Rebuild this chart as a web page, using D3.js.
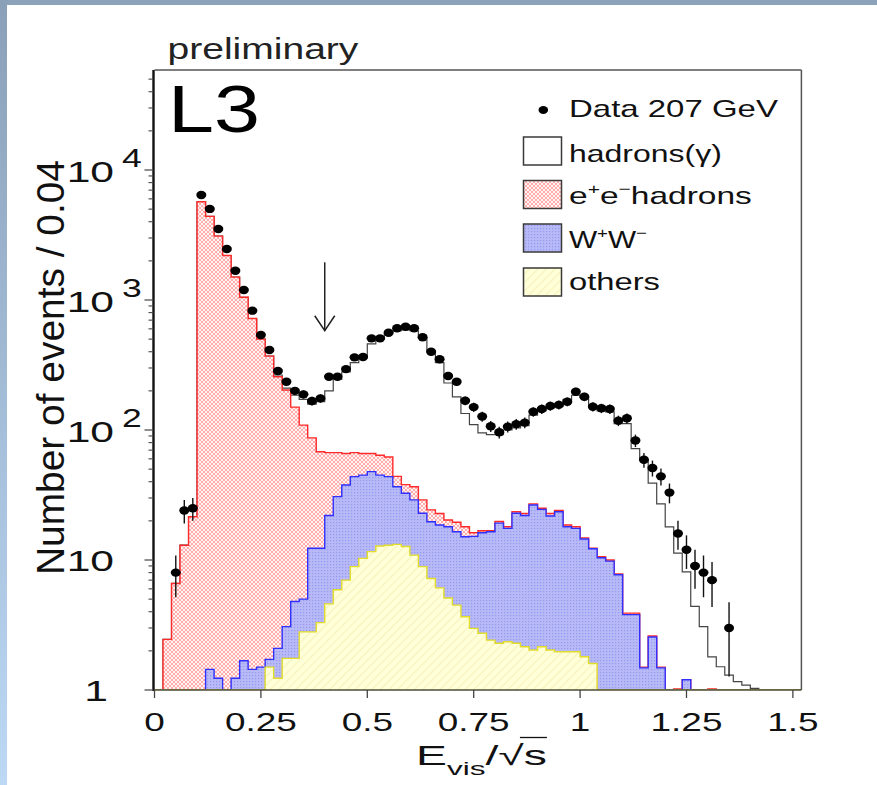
<!DOCTYPE html>
<html><head><meta charset="utf-8">
<script src="https://cdn.jsdelivr.net/npm/d3@7"></script>
<style>
body{margin:0;background:#fff}
svg{display:block}
text{font-family:"Liberation Sans",Arial,Helvetica,sans-serif;fill:#111}
</style>
</head><body>
<svg id="chart" width="877" height="785"></svg>
<script>
// ---- binning: 0.02 wide bins starting at E_vis/sqrt(s) = 0 ----
const binWidth = 0.02;

// observed events per bin (null = no entry)
const dataCounts = [null,null,8,24,25,6420,5020,3520,2470,1680,
  1194,828,538,412,284,235,200,188,167,175,
  257,257,294,362,364,507,507,560,606,623,
  606,517,400,350,260,235,168,150,127,107,
  96,106,111,114,138,145,153,156,165,197,
  180,151,147,145,118,123,83,59,51,44,
  33,16,12,9,8,7,null,3,null,null,
  null,null,null,null,null,null];

// stacked Monte Carlo levels (each includes everything drawn below it)
const stackTotal = [0,2.45,6.6,13,21.5,5700,4400,3100,2200,1500,
  1050,720,500,370,265,210,185,172,158,165,
  200,245,280,330,360,460,500,550,580,590,
  580,510,400,330,230,180,134,110,95,92,
  92,100,104,108,130,140,148,152,172,185,
  178,150,140,138,112,112,72,59,39,27,
  18,11.3,8.1,4.4,3.07,1.8,1.51,1.3,1.16,1.09,
  1.03,0.9,0,0,0,0];
const stackEE = [0,2.45,6.6,13,21.5,5700,4400,3100,2200,1500,
  1050,720,500,370,257,203,150,109,87,68,
  67,67,66,67,66,66,64,62,44,38,
  36.6,29,24.3,22.8,20.3,19.5,18,16.2,16.8,16.8,
  19.8,18,23.5,22.8,27,25,22.8,24,18.6,18,
  14.8,12.3,10.6,10,7.8,3.9,3.9,1.5,2.6,1.5,
  0,1.02,1.2,0,0,1.02,0,0,0,0,
  0,0,0,0,0,0];
const stackWW = [0,0,0,0,0,0,1.44,1.23,0,1.23,
  1.68,1.44,1.5,1.72,2.09,3.07,4.8,5.0,12.3,12.3,
  22,30.7,37.8,43.8,45,47.8,45,43.8,36.6,32.6,
  29,22.9,19.7,18.6,18,16.5,15.1,15.2,16.2,16.5,
  19.2,17.5,22.9,22,26.5,24.5,21.8,23.5,18,17.5,
  14.5,12.2,10.4,9.8,7.7,3.8,3.8,1.48,2.56,1.48,
  0,0,1.2,0,0,0,0,0,0,0,
  0,0,0,0,0,0];
const stackOthers = [0,0,0,0,0,0,0,0,0,0,
  0,0,0,1.5,1.23,1.75,1.75,2.8,2.8,3.3,
  4.6,5.9,7.0,8.9,10.3,11.6,12.8,13.0,13.2,12.7,
  10.9,8.9,7.2,6.1,5.1,4.5,3.66,2.98,2.73,2.42,
  2.29,2.35,2.29,2.15,2.03,2.15,2.03,1.97,1.97,1.97,
  1.8,1.6,0,0,0,0,0,0,0,0,
  0,0,0,0,0,0,0,0,0,0,
  0,0,0,0,0,0];

const xTicks = [0, 0.25, 0.5, 0.75, 1, 1.25, 1.5];
const xTickLabels = ["0", "0.25", "0.5", "0.75", "1", "1.25", "1.5"];
const yDecades = [1, 10, 100, 1000, 10000];
const yMantissa = ["1", "10", "10", "10", "10"];
const yExponent = ["", "", "2", "3", "4"];
const legendEntries = ["hadrons(γ)", "e+e−hadrons", "W+W−", "others"];
const dataLabel = "Data 207 GeV";
const cutValue = 0.4;          // selection cut marked by the arrow
const arrowRange = [1950, 580]; // arrow extent in events

// ---- geometry ----
const svg = d3.select("#chart");
const plot = {left: 154.5, right: 801.4, top: 70, bottom: 690};
const x = d3.scaleLinear().domain([0, 1.52]).range([plot.left, plot.right]);
const y = d3.scaleLog().domain([1, Math.pow(10, 620/130)]).range([plot.bottom, plot.top]);
const yv = v => (v >= 1 ? y(v) : plot.bottom);

// ---- page frame ----
const defs = svg.append("defs");
const grad = defs.append("linearGradient").attr("id", "sideGrad")
  .attr("x1", 0).attr("y1", 0).attr("x2", 0).attr("y2", 1);
grad.append("stop").attr("offset", 0).attr("stop-color", "#8aa0b8");
grad.append("stop").attr("offset", 1).attr("stop-color", "#bcd8f5");
svg.append("rect").attr("x", 0).attr("y", 0).attr("width", 877).attr("height", 5).attr("fill", "#8ca2ba");
svg.append("rect").attr("x", 0).attr("y", 0).attr("width", 7).attr("height", 785).attr("fill", "url(#sideGrad)");

// ---- fill patterns ----
const pRed = defs.append("pattern").attr("id", "pRed").attr("width", 4).attr("height", 4)
  .attr("patternUnits", "userSpaceOnUse");
pRed.append("rect").attr("width", 4).attr("height", 4).attr("fill", "#fff4f4");
pRed.append("path").attr("d", "M0,0L4,4M4,0L0,4").attr("stroke", "#ffa4a4").attr("stroke-width", 0.9);

const pBlue = defs.append("pattern").attr("id", "pBlue").attr("width", 3).attr("height", 3)
  .attr("patternUnits", "userSpaceOnUse");
pBlue.append("rect").attr("width", 3).attr("height", 3).attr("fill", "#b8baf7");
pBlue.append("rect").attr("width", 1.2).attr("height", 1.2).attr("fill", "#9498ef");

const pYel = defs.append("pattern").attr("id", "pYel").attr("width", 6).attr("height", 6)
  .attr("patternUnits", "userSpaceOnUse").attr("patternTransform", "rotate(-45)");
pYel.append("rect").attr("width", 6).attr("height", 6).attr("fill", "#ffffd8");
pYel.append("line").attr("x1", 0).attr("x2", 6).attr("y1", 0.5).attr("y2", 0.5)
  .attr("stroke", "#f6f2bc").attr("stroke-width", 1.2);

defs.append("clipPath").attr("id", "plotClip").append("rect")
  .attr("x", plot.left).attr("y", plot.top)
  .attr("width", plot.right - plot.left).attr("height", plot.bottom - plot.top);

// ---- histograms ----
const toSteps = vals => {
  const pts = vals.map((v, i) => ({e: i * binWidth, v}));
  pts.push({e: vals.length * binWidth, v: 0});
  return pts;
};
const area = d3.area().x(d => x(d.e)).y0(plot.bottom).y1(d => yv(d.v)).curve(d3.curveStepAfter);
const line = d3.line().x(d => x(d.e)).y(d => yv(d.v)).curve(d3.curveStepAfter);

const hist = svg.append("g").attr("clip-path", "url(#plotClip)");
hist.append("path").attr("d", line(toSteps(stackTotal)))
  .attr("fill", "none").attr("stroke", "#444").attr("stroke-width", 1.2);

const layers = [
  {vals: stackEE, fill: "url(#pRed)", stroke: "#ff2a2a"},
  {vals: stackWW, fill: "url(#pBlue)", stroke: "#2f2fff"},
  {vals: stackOthers, fill: "url(#pYel)", stroke: "#e2dc2a"}
];
layers.forEach(l => {
  const pts = toSteps(l.vals);
  hist.append("path").attr("d", area(pts)).attr("fill", l.fill);
  hist.append("path").attr("d", line(pts)).attr("fill", "none")
    .attr("stroke", l.stroke).attr("stroke-width", 1.4);
});

// ---- data points ----
const pts = dataCounts.map((n, i) => ({n, c: (i + 0.5) * binWidth})).filter(d => d.n !== null);
const dataG = svg.append("g");
dataG.selectAll("line.err").data(pts).join("line").attr("class", "err")
  .attr("x1", d => x(d.c)).attr("x2", d => x(d.c))
  .attr("y1", d => yv(d.n + Math.sqrt(d.n)))
  .attr("y2", d => yv(Math.max(d.n - Math.sqrt(d.n), 1)))
  .attr("stroke", "#111").attr("stroke-width", 1.4);
dataG.selectAll("ellipse").data(pts).join("ellipse")
  .attr("cx", d => x(d.c)).attr("cy", d => y(d.n))
  .attr("rx", 5).attr("ry", 4.2).attr("fill", "#000");

// ---- axes and frame ----
const ax = svg.append("g");
ax.append("line").attr("x1", plot.left).attr("x2", plot.right).attr("y1", plot.top).attr("y2", plot.top)
  .attr("stroke", "#555").attr("stroke-width", 1.5);
ax.append("line").attr("x1", plot.right).attr("x2", plot.right).attr("y1", plot.top).attr("y2", plot.bottom)
  .attr("stroke", "#555").attr("stroke-width", 1.5);
ax.append("line").attr("x1", plot.left).attr("x2", plot.right).attr("y1", plot.bottom).attr("y2", plot.bottom)
  .attr("stroke", "#4d4d38").attr("stroke-width", 1.6);
ax.append("line").attr("x1", plot.left - 1).attr("x2", plot.left - 1).attr("y1", plot.top).attr("y2", plot.bottom + 1)
  .attr("stroke", "#111").attr("stroke-width", 2.4);

// x ticks (downward)
ax.selectAll("line.xt").data(xTicks).join("line").attr("class", "xt")
  .attr("x1", d => x(d)).attr("x2", d => x(d)).attr("y1", plot.bottom).attr("y2", plot.bottom + 8)
  .attr("stroke", "#444").attr("stroke-width", 1.3);

// y ticks (outward), majors at decades, minors at 2..9
const yMinor = [];
for (let dec = 1; dec <= 10000; dec *= 10)
  for (let m = 2; m <= 9; m++) if (dec * m <= y.domain()[1]) yMinor.push(dec * m);
ax.selectAll("line.ymin").data(yMinor).join("line").attr("class", "ymin")
  .attr("x1", plot.left - 6).attr("x2", plot.left - 1).attr("y1", d => y(d)).attr("y2", d => y(d))
  .attr("stroke", "#444").attr("stroke-width", 1.1);
ax.selectAll("line.ymaj").data(yDecades).join("line").attr("class", "ymaj")
  .attr("x1", plot.left - 10).attr("x2", plot.left - 1).attr("y1", d => y(d)).attr("y2", d => y(d))
  .attr("stroke", "#444").attr("stroke-width", 1.2);

// text helper: horizontally stretched label
function label(parent, px, py, size, anchor, sx) {
  const g = parent.append("g").attr("transform", `translate(${px},${py}) scale(${sx},1)`);
  const t = g.append("text").attr("font-size", size).attr("text-anchor", anchor);
  return {g, t};
}
function fitWidth(o, px, py, width) {
  const w = o.t.node().getComputedTextLength();
  o.g.attr("transform", `translate(${px},${py}) scale(${width / w},1)`);
}

// x tick labels
xTicks.forEach((v, i) => {
  const o = label(ax, x(v), 731, 26, "middle", 1.42);
  o.t.text(xTickLabels[i]);
});

// y tick labels: mantissa plus raised exponent
yDecades.forEach((v, i) => {
  const yy = y(v);
  if (yExponent[i] === "") {
    const o = label(ax, i === 0 ? 108 : 114, yy + 11, 30, "end", 1.42);
    o.t.text(yMantissa[i]);
  } else {
    const o = label(ax, 114, yy + 11.5, 30, "end", 1.42);
    o.t.text(yMantissa[i]);
    const e = label(ax, 122, yy - 3, 25, "start", 1.42);
    e.t.text(yExponent[i]);
  }
});

// axis titles
const yt = svg.append("g").attr("transform", "translate(64,367.5) rotate(-90)");
const ytt = yt.append("text").attr("font-size", 39).attr("text-anchor", "middle")
  .text("Number of events / 0.04");
const ytw = ytt.node().getComputedTextLength();
ytt.attr("transform", `scale(${415 / ytw},1)`);

const xt = label(svg, 416, 765, 28, "start", 1);
xt.t.append("tspan").text("E");
xt.t.append("tspan").attr("font-size", 19).attr("dy", 10).text("vis");
xt.t.append("tspan").attr("dy", -10).text("/√s");
fitWidth(xt, 416, 765, 131);
{
  const n = xt.t.node();
  const k = n.getNumberOfChars();
  const root = n.getExtentOfChar(k - 2);
  const s = n.getExtentOfChar(k - 1);
  xt.g.append("line").attr("x1", root.x + root.width * 0.85).attr("x2", s.x + s.width)
    .attr("y1", -27.5).attr("y2", -27.5).attr("stroke", "#111").attr("stroke-width", 1.3);
}

// headline texts
const pre = label(svg, 167.5, 59, 29, "start", 1);
pre.t.text("preliminary").style("fill", "#222");
fitWidth(pre, 167.5, 59, 191);
const l3 = label(svg, 168, 131.7, 67, "start", 1);
l3.t.text("L3").style("fill", "#000");
fitWidth(l3, 168, 131.7, 92);

// cut arrow
const ax0 = x(cutValue);
const arrow = svg.append("g").attr("stroke", "#222").attr("stroke-width", 1.5).attr("fill", "none");
arrow.append("line").attr("x1", ax0).attr("x2", ax0).attr("y1", y(arrowRange[0])).attr("y2", y(arrowRange[1]));
arrow.append("path").attr("d", `M${ax0 - 10},${y(arrowRange[1]) - 15}L${ax0},${y(arrowRange[1])}L${ax0 + 10},${y(arrowRange[1]) - 15}`);

// ---- legend ----
const lg = svg.append("g");
lg.append("ellipse").attr("cx", 543.3).attr("cy", 110).attr("rx", 4.8).attr("ry", 4).attr("fill", "#000");
const dl = label(lg, 569, 117, 24, "start", 1);
dl.t.text(dataLabel);
fitWidth(dl, 569, 117, 209);

const boxFills = ["#fff", "url(#pRed)", "url(#pBlue)", "url(#pYel)"];
const boxTops = [137, 180.5, 224, 268];
const textBase = [161.5, 204, 248, 290];
const textWidths = [153, 183, 78, 91];
legendEntries.forEach((name, i) => {
  lg.append("rect").attr("x", 523.5).attr("y", boxTops[i]).attr("width", 38).attr("height", 28)
    .attr("fill", boxFills[i]).attr("stroke", "#3a3a3a").attr("stroke-width", 1.5);
  const o = label(lg, 569, textBase[i], 24, "start", 1);
  if (i === 1) {
    o.t.append("tspan").text("e");
    o.t.append("tspan").attr("font-size", 15).attr("dy", -10).text("+");
    o.t.append("tspan").attr("dy", 10).text("e");
    o.t.append("tspan").attr("font-size", 15).attr("dy", -10).text("−");
    o.t.append("tspan").attr("dy", 10).text("hadrons");
  } else if (i === 2) {
    o.t.append("tspan").text("W");
    o.t.append("tspan").attr("font-size", 15).attr("dy", -10).text("+");
    o.t.append("tspan").attr("dy", 10).text("W");
    o.t.append("tspan").attr("font-size", 15).attr("dy", -10).text("−");
  } else {
    o.t.text(name);
  }
  fitWidth(o, 569, textBase[i], textWidths[i]);
});
</script>
</body></html>
